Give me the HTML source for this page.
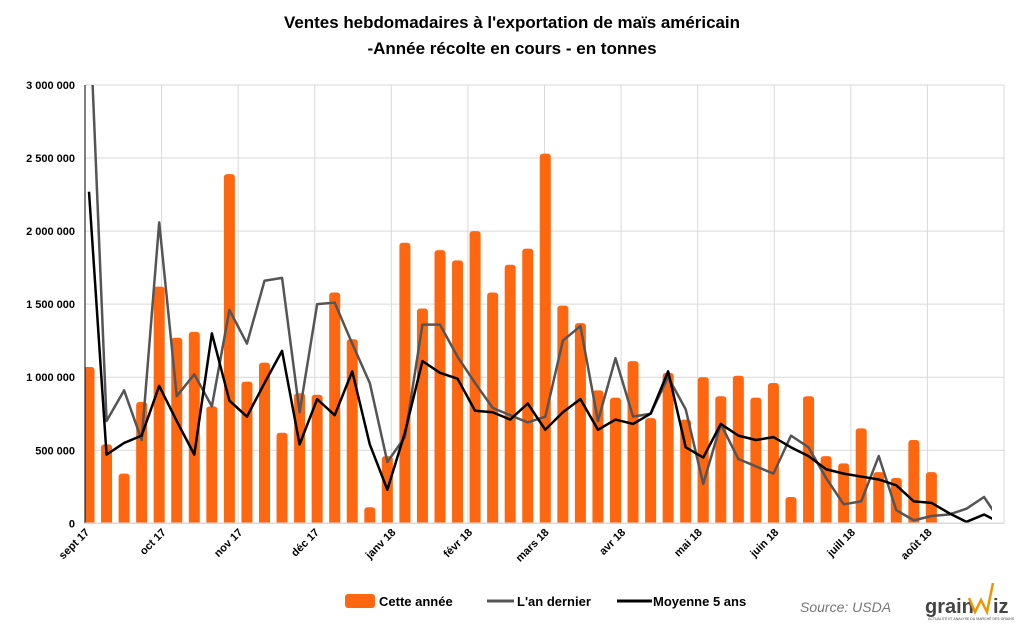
<!DOCTYPE html>
<html><head><meta charset="utf-8"><style>
body{margin:0;background:#fff;width:1024px;height:630px;overflow:hidden;font-family:"Liberation Sans",sans-serif}
</style></head><body>
<svg id="c" width="1024" height="630" xmlns="http://www.w3.org/2000/svg">
<text x="512" y="28" text-anchor="middle" font-size="17" font-weight="bold" textLength="456" lengthAdjust="spacingAndGlyphs">Ventes hebdomadaires à l'exportation de maïs américain</text>
<text x="512" y="54" text-anchor="middle" font-size="17" font-weight="bold">-Année récolte en cours - en tonnes</text>
<defs><clipPath id="pc"><rect x="85" y="85" width="907" height="438.3"/></clipPath></defs>
<g id="grid"></g><g id="bars" clip-path="url(#pc)"></g><g id="lines" clip-path="url(#pc)"></g><g id="axes"></g>
<g>
<rect x="345" y="594" width="30" height="14" rx="3" fill="#ff6610"/>
<text x="379" y="606" font-size="13" font-weight="bold">Cette année</text>
<line x1="487" y1="601" x2="514" y2="601" stroke="#555" stroke-width="3"/>
<text x="517" y="606" font-size="13" font-weight="bold">L'an dernier</text>
<line x1="617" y1="601" x2="652" y2="601" stroke="#000" stroke-width="3"/>
<text x="653" y="606" font-size="13" font-weight="bold">Moyenne 5 ans</text>
</g>
<text x="800" y="612" font-size="14" font-style="italic" fill="#777">Source: USDA</text>
<g>
<text x="925" y="613" font-size="20" font-weight="bold" fill="#444">grain</text>
<polyline points="969,598 975,612 981,600 987,612 993,583" fill="none" stroke="#f29400" stroke-width="2.5"/>
<text x="993" y="613" font-size="20" font-weight="bold" fill="#444">iz</text>
<text x="928" y="620" font-size="3.5" fill="#444">ACTUALITÉ ET ANALYSE DU MARCHÉ DES GRAINS</text>
</g>
</svg>
<script>
const months=["sept 17","oct 17","nov 17","déc 17","janv 18","févr 18","mars 18","avr 18","mai 18","juin 18","juill 18","août 18"];
const yTicks=[0,500000,1000000,1500000,2000000,2500000,3000000];
const yTickLabels=["0","500 000","1 000 000","1 500 000","2 000 000","2 500 000","3 000 000"];
const cetteAnnee=[1.07,0.54,0.34,0.83,1.62,1.27,1.31,0.80,2.39,0.97,1.10,0.62,0.89,0.88,1.58,1.26,0.11,0.46,1.92,1.47,1.87,1.80,2.00,1.58,1.77,1.88,2.53,1.49,1.37,0.91,0.86,1.11,0.72,1.03,0.71,1.00,0.87,1.01,0.86,0.96,0.18,0.87,0.46,0.41,0.65,0.35,0.31,0.57,0.35];
const anDernier=[3.6,0.70,0.91,0.57,2.06,0.87,1.02,0.80,1.46,1.23,1.66,1.68,0.76,1.50,1.51,1.23,0.96,0.42,0.59,1.36,1.36,1.14,0.96,0.79,0.74,0.69,0.73,1.25,1.35,0.70,1.13,0.73,0.75,1.00,0.78,0.27,0.68,0.44,0.39,0.34,0.60,0.52,0.31,0.13,0.15,0.46,0.09,0.02,0.05,0.06,0.10,0.18,0];
const moyenne=[2.27,0.47,0.55,0.60,0.94,0.70,0.47,1.30,0.84,0.73,0.96,1.18,0.54,0.85,0.74,1.04,0.54,0.23,0.62,1.11,1.03,0.99,0.77,0.76,0.71,0.82,0.64,0.76,0.85,0.64,0.71,0.68,0.75,1.04,0.52,0.45,0.68,0.60,0.57,0.59,0.52,0.46,0.37,0.34,0.32,0.30,0.26,0.15,0.14,0.07,0.01,0.06,0];
const NS="http://www.w3.org/2000/svg";
const X0=85,X1=1004,Y0=523.3,Y3=85;
const yS=v=>Y0-(v/3000000)*(Y0-Y3);
const xS=i=>89+i*17.55;
const mX=i=>X0+i*(X1-X0)/12;
function mk(t,a,p){const e=document.createElementNS(NS,t);for(const k in a)e.setAttribute(k,a[k]);p.appendChild(e);return e;}
const grid=document.getElementById('grid'),axes=document.getElementById('axes');
yTicks.forEach((v,i)=>{
 const l=mk('line',{x1:X0,x2:X1,y1:yS(v),y2:yS(v),stroke:'#d9d9d9','stroke-width':1},grid);
 
 
 const t=mk('text',{x:75,y:yS(v)+4,'text-anchor':'end','font-size':11,'font-weight':'bold'},axes);
 t.textContent=yTickLabels[i];
 
 
});
for(let i=1;i<=12;i++){
 const l=mk('line',{x1:mX(i),x2:mX(i),y1:Y3,y2:Y0,stroke:'#d9d9d9','stroke-width':1},grid);
 
 
}
months.forEach((m,i)=>{
 const x=mX(i)+5,y=533;
 const t=mk('text',{x:x,y:y,'text-anchor':'end','font-size':11,'font-weight':'bold',transform:`rotate(-45 ${x} ${y})`},axes);
 t.textContent=m;
 
 
});
const bars=document.getElementById('bars');
cetteAnnee.forEach((v,i)=>{
 const top=yS(v*1e6);
 const b=mk('rect',{x:xS(i)-5.5,y:top,width:11,height:Y0-top+4,rx:3,fill:'#ff6610'},bars);
 
 
});
const lines=document.getElementById('lines');
const p1=mk('polyline',{points:anDernier.map((v,i)=>xS(i)+','+yS(v*1e6)).join(' '),fill:'none',stroke:'#555','stroke-width':2.5,'stroke-linejoin':'round'},lines);


const p2=mk('polyline',{points:moyenne.map((v,i)=>xS(i)+','+yS(v*1e6)).join(' '),fill:'none',stroke:'#000','stroke-width':2.5,'stroke-linejoin':'round'},lines);


const ax=mk('line',{x1:X0,x2:X0,y1:Y3,y2:Y0,stroke:'#000','stroke-width':1},axes);


const bx=mk('line',{x1:X0,x2:X1,y1:Y0,y2:Y0,stroke:'#d9d9d9','stroke-width':1.5},axes);


</script>
</body></html>
